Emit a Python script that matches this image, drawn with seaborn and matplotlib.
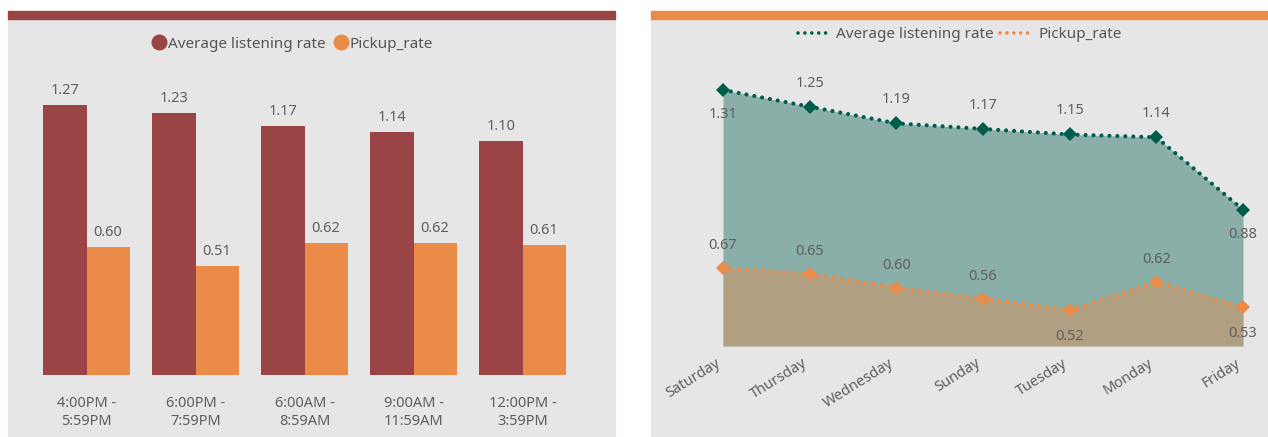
import matplotlib
matplotlib.use("Agg")
import matplotlib.pyplot as plt
import matplotlib.transforms as mtransforms
import seaborn as sns
import pandas as pd
import numpy as np
from matplotlib.patches import Rectangle
from matplotlib.lines import Line2D

# ---------------- data ----------------
time_slots = ["4:00PM -\n5:59PM", "6:00PM -\n7:59PM", "6:00AM -\n8:59AM",
              "9:00AM -\n11:59AM", "12:00PM -\n3:59PM"]
slot_listen = [1.27, 1.23, 1.17, 1.14, 1.10]
slot_pickup = [0.60, 0.51, 0.62, 0.62, 0.61]

days = ["Saturday", "Thursday", "Wednesday", "Sunday", "Tuesday", "Monday", "Friday"]
day_listen = [1.31, 1.25, 1.19, 1.17, 1.15, 1.14, 0.88]
day_pickup = [0.67, 0.65, 0.60, 0.56, 0.52, 0.62, 0.53]

series_names = ["Average listening rate", "Pickup_rate"]

# ---------------- style ----------------
sns.set_theme(style="white")
plt.rcParams["font.family"] = ["Noto Sans", "DejaVu Sans"]

RED = "#9a4446"
ORANGE = "#ea8c48"
GREEN = "#005c4b"
BG = "#e6e6e6"
TXT = "#5f5f5f"
DOTS = (0, (0.01, 1.9))

W, H = 1268, 437
fig = plt.figure(figsize=(W / 100, H / 100), dpi=100)
fig.patch.set_facecolor("white")


def rect(l, t, r, b):
    return [l / W, 1 - b / H, (r - l) / W, (b - t) / H]


# panel backgrounds and header bands
for (l, r, band) in [(8, 615, RED), (651, 1268, ORANGE)]:
    fig.patches.append(Rectangle((l / W, 0), (r - l) / W, 1 - 19 / H,
                                 transform=fig.transFigure, color=BG, zorder=-10))
    fig.patches.append(Rectangle((l / W, 1 - 19 / H), (r - l) / W, 8 / H,
                                 transform=fig.transFigure, color=band, zorder=-10))

# ---------------- left: grouped bars ----------------
ax1 = fig.add_axes(rect(32, 77, 577, 375))
ax1.set_facecolor("none")
df = pd.DataFrame({
    "slot": time_slots * 2,
    "value": slot_listen + slot_pickup,
    "series": [series_names[0]] * len(time_slots) + [series_names[1]] * len(time_slots),
})
sns.barplot(data=df, x="slot", y="value", hue="series", order=time_slots,
            hue_order=series_names, palette=[RED, ORANGE], width=0.79,
            saturation=1, ax=ax1, legend=False, linewidth=0, edgecolor="none")
for cont in ax1.containers:
    ax1.bar_label(cont, fmt="%.2f", padding=5, color=TXT, fontsize=10.5)
ax1.set_ylim(0, 1.4)
ax1.set_xlim(-0.5, 4.5)
ax1.set_xlabel("")
ax1.set_ylabel("")
ax1.set_yticks([])
ax1.tick_params(axis="x", length=0, pad=15, labelsize=10.5, labelcolor=TXT)
for lab in ax1.get_xticklabels():
    lab.set_linespacing(1.3)
for s in ax1.spines.values():
    s.set_visible(False)

h1 = [Line2D([], [], marker="o", ls="none", markersize=10.5, color=c) for c in (RED, ORANGE)]
fig.legend(h1, series_names, loc="center", bbox_to_anchor=(292 / W, 1 - 44 / H),
           ncol=2, frameon=False, handletextpad=0.05, columnspacing=0.4,
           fontsize=11, labelcolor="#555555", handlelength=1.1)

# ---------------- right: area/line ----------------
ax2 = fig.add_axes(rect(723, 51, 1243, 346))
ax2.set_facecolor("none")
xi = np.arange(len(days))
base = 0.39
ax2.fill_between(xi, day_listen, base, color=GREEN, alpha=0.4, lw=0, zorder=1)
ax2.fill_between(xi, day_pickup, base, color=ORANGE, alpha=0.4, lw=0, zorder=1)
sns.lineplot(x=xi, y=day_listen, ax=ax2, color=GREEN, marker="D", markersize=7,
             markeredgewidth=0, linestyle=DOTS, linewidth=3.0,
             dash_capstyle="round", sort=False, zorder=3)
sns.lineplot(x=xi, y=day_pickup, ax=ax2, color=ORANGE, marker="D", markersize=7,
             markeredgewidth=0, linestyle=DOTS, linewidth=3.0,
             dash_capstyle="round", sort=False, zorder=3)
for l in ax2.lines:
    l.set_clip_on(False)

listen_below = [0, 6]
pickup_below = [4, 6]
for i, v in enumerate(day_listen):
    off = -18 if i in listen_below else 17
    ax2.annotate(f"{v:.2f}", (i, v), xytext=(0, off), textcoords="offset points",
                 ha="center", va="center", color=TXT, fontsize=10.5, zorder=4)
for i, v in enumerate(day_pickup):
    off = -19 if i in pickup_below else 16
    ax2.annotate(f"{v:.2f}", (i, v), xytext=(0, off), textcoords="offset points",
                 ha="center", va="center", color=TXT, fontsize=10.5, zorder=4)

ax2.set_xlim(0, 6)
ax2.set_ylim(base, 1.45)
ax2.set_xticks(xi)
ax2.set_xticklabels(days, rotation=32, ha="right", va="top", rotation_mode="anchor")
ax2.tick_params(axis="x", length=0, pad=7, labelsize=10.5, labelcolor=TXT)
shift = mtransforms.ScaledTranslation(-8 / 100, 0, fig.dpi_scale_trans)
for lab in ax2.get_xticklabels():
    lab.set_transform(lab.get_transform() + shift)
ax2.set_yticks([])
ax2.set_xlabel("")
ax2.set_ylabel("")
for s in ax2.spines.values():
    s.set_visible(False)

h2 = [Line2D([], [], color=c, linestyle=DOTS, linewidth=2.6,
             dash_capstyle="round") for c in (GREEN, ORANGE)]
fig.legend(h2, series_names, loc="center", bbox_to_anchor=(960 / W, 1 - 35 / H),
           ncol=2, frameon=False, handletextpad=0.3, columnspacing=0.4,
           fontsize=11, labelcolor="#555555", handlelength=2.2)

fig.savefig("out.png", dpi=100, facecolor="white")
